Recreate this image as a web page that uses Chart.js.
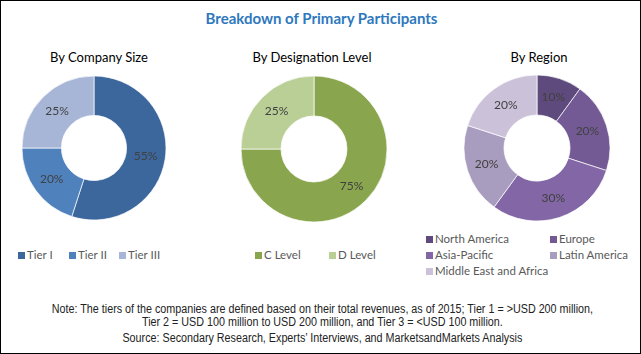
<!DOCTYPE html>
<html>
<head>
<meta charset="utf-8">
<script src="https://cdn.jsdelivr.net/npm/chart.js@4"></script>
<style>
  html, body { margin: 0; padding: 0; }
  body {
    width: 641px; height: 354px; position: relative; overflow: hidden;
    background: #fff; box-sizing: border-box; border: 1px solid #000;
    font-family: Lato, "Open Sans", sans-serif;
  }
  .abs { position: absolute; white-space: nowrap; }
  #title { left: 0; width: 641px; top: 8px; text-align: center; font-weight: bold; font-size: 15px; color: #2e78bd; }
  .sub { top: 48px; width: 200px; text-align: center; font-size: 13px; color: #000; }
  canvas { position: absolute; }
  .leg { font-size: 11.5px; color: #595959; line-height: 16px; }
  .leg i { display: inline-block; width: 7px; height: 7px; margin-right: 2px; vertical-align: 0px; }
  .note {
    left: 0; width: 641px; text-align: center;
    font-family: "Liberation Sans", Arial, sans-serif; font-size: 12.5px; color: #222;
    transform: scaleX(0.86); transform-origin: 327px 0;
  }
</style>
</head>
<body>
<div id="title" class="abs">Breakdown of Primary Participants</div>
<div class="abs sub" style="left:-2px">By Company Size</div>
<div class="abs sub" style="left:211px">By Designation Level</div>
<div class="abs sub" style="left:438px">By Region</div>

<canvas id="sizeChart" width="160" height="160" style="left:13px; top:67px"></canvas>
<canvas id="levelChart" width="160" height="160" style="left:233px; top:68px"></canvas>
<canvas id="regionChart" width="160" height="160" style="left:456px; top:67px"></canvas>

<div id="sizeLegend"></div>
<div id="levelLegend"></div>
<div id="regionLegend"></div>

<div class="abs note" style="top:301px">Note: The tiers of the companies are defined based on their total revenues, as of 2015; Tier 1 = &gt;USD 200 million,</div>
<div class="abs note" style="top:314px">Tier 2 = USD 100 million to USD 200 million, and Tier 3 = &lt;USD 100 million.</div>
<div class="abs note" style="top:330px">Source: Secondary Research, Experts’ Interviews, and MarketsandMarkets Analysis</div>

<script>
// Company size
const sizeLabels = ["Tier I", "Tier II", "Tier III"];
const sizeValues = [55, 20, 25];
const sizeColors = ["#3c679c", "#4f81bd", "#a7b6d6"];

// Designation level
const levelLabels = ["C Level", "D Level"];
const levelValues = [75, 25];
const levelColors = ["#89a64f", "#bacf96"];

// Region
const regionLabels = ["North America", "Europe", "Asia-Pacific", "Latin America", "Middle East and Africa"];
const regionValues = [10, 20, 30, 20, 20];
const regionColors = ["#5e4a7c", "#735a95", "#8366a6", "#a99dbf", "#cbc2da"];

// Draw the percentage in the middle of each slice
const percentLabels = {
  id: "percentLabels",
  afterDatasetsDraw(chart) {
    const ctx = chart.ctx;
    const values = chart.data.datasets[0].data;
    ctx.save();
    ctx.font = "12px Lato, sans-serif";
    ctx.fillStyle = "#404040";
    ctx.textAlign = "center";
    ctx.textBaseline = "middle";
    chart.getDatasetMeta(0).data.forEach((arc, i) => {
      const pos = arc.tooltipPosition();
      ctx.fillText(values[i] + "%", pos.x, pos.y);
    });
    ctx.restore();
  },
};

function makeDonut(id, labels, values, colors, radius) {
  new Chart(document.getElementById(id), {
    type: "doughnut",
    data: {
      labels: labels,
      datasets: [
        {
          data: values,
          backgroundColor: colors,
          borderColor: "#ffffff",
          borderWidth: 0.7,
        },
      ],
    },
    options: {
      responsive: false,
      animation: false,
      radius: radius,
      cutout: 36,
      layout: { padding: 0 },
      plugins: {
        legend: { display: false },
        tooltip: { enabled: false },
      },
    },
    plugins: [percentLabels],
  });
}

// Simple html legends, one entry per category
function makeLegend(id, labels, colors, spots) {
  const box = document.getElementById(id);
  labels.forEach((label, i) => {
    const el = document.createElement("div");
    el.className = "abs leg";
    el.style.left = spots[i][0] + "px";
    el.style.top = spots[i][1] + "px";
    el.innerHTML = `<i style="background:${colors[i]}"></i>${label}`;
    box.appendChild(el);
  });
}

makeDonut("sizeChart", sizeLabels, sizeValues, sizeColors, 72);
makeDonut("levelChart", levelLabels, levelValues, levelColors, 73);
makeDonut("regionChart", regionLabels, regionValues, regionColors, 73);

makeLegend("sizeLegend", sizeLabels, sizeColors, [[17, 246], [68, 246], [118, 246]]);
makeLegend("levelLegend", levelLabels, levelColors, [[254, 246], [328, 246]]);
makeLegend("regionLegend", regionLabels, regionColors, [[425, 230], [549, 230], [425, 246], [549, 246], [425, 262]]);
</script>
</body>
</html>
